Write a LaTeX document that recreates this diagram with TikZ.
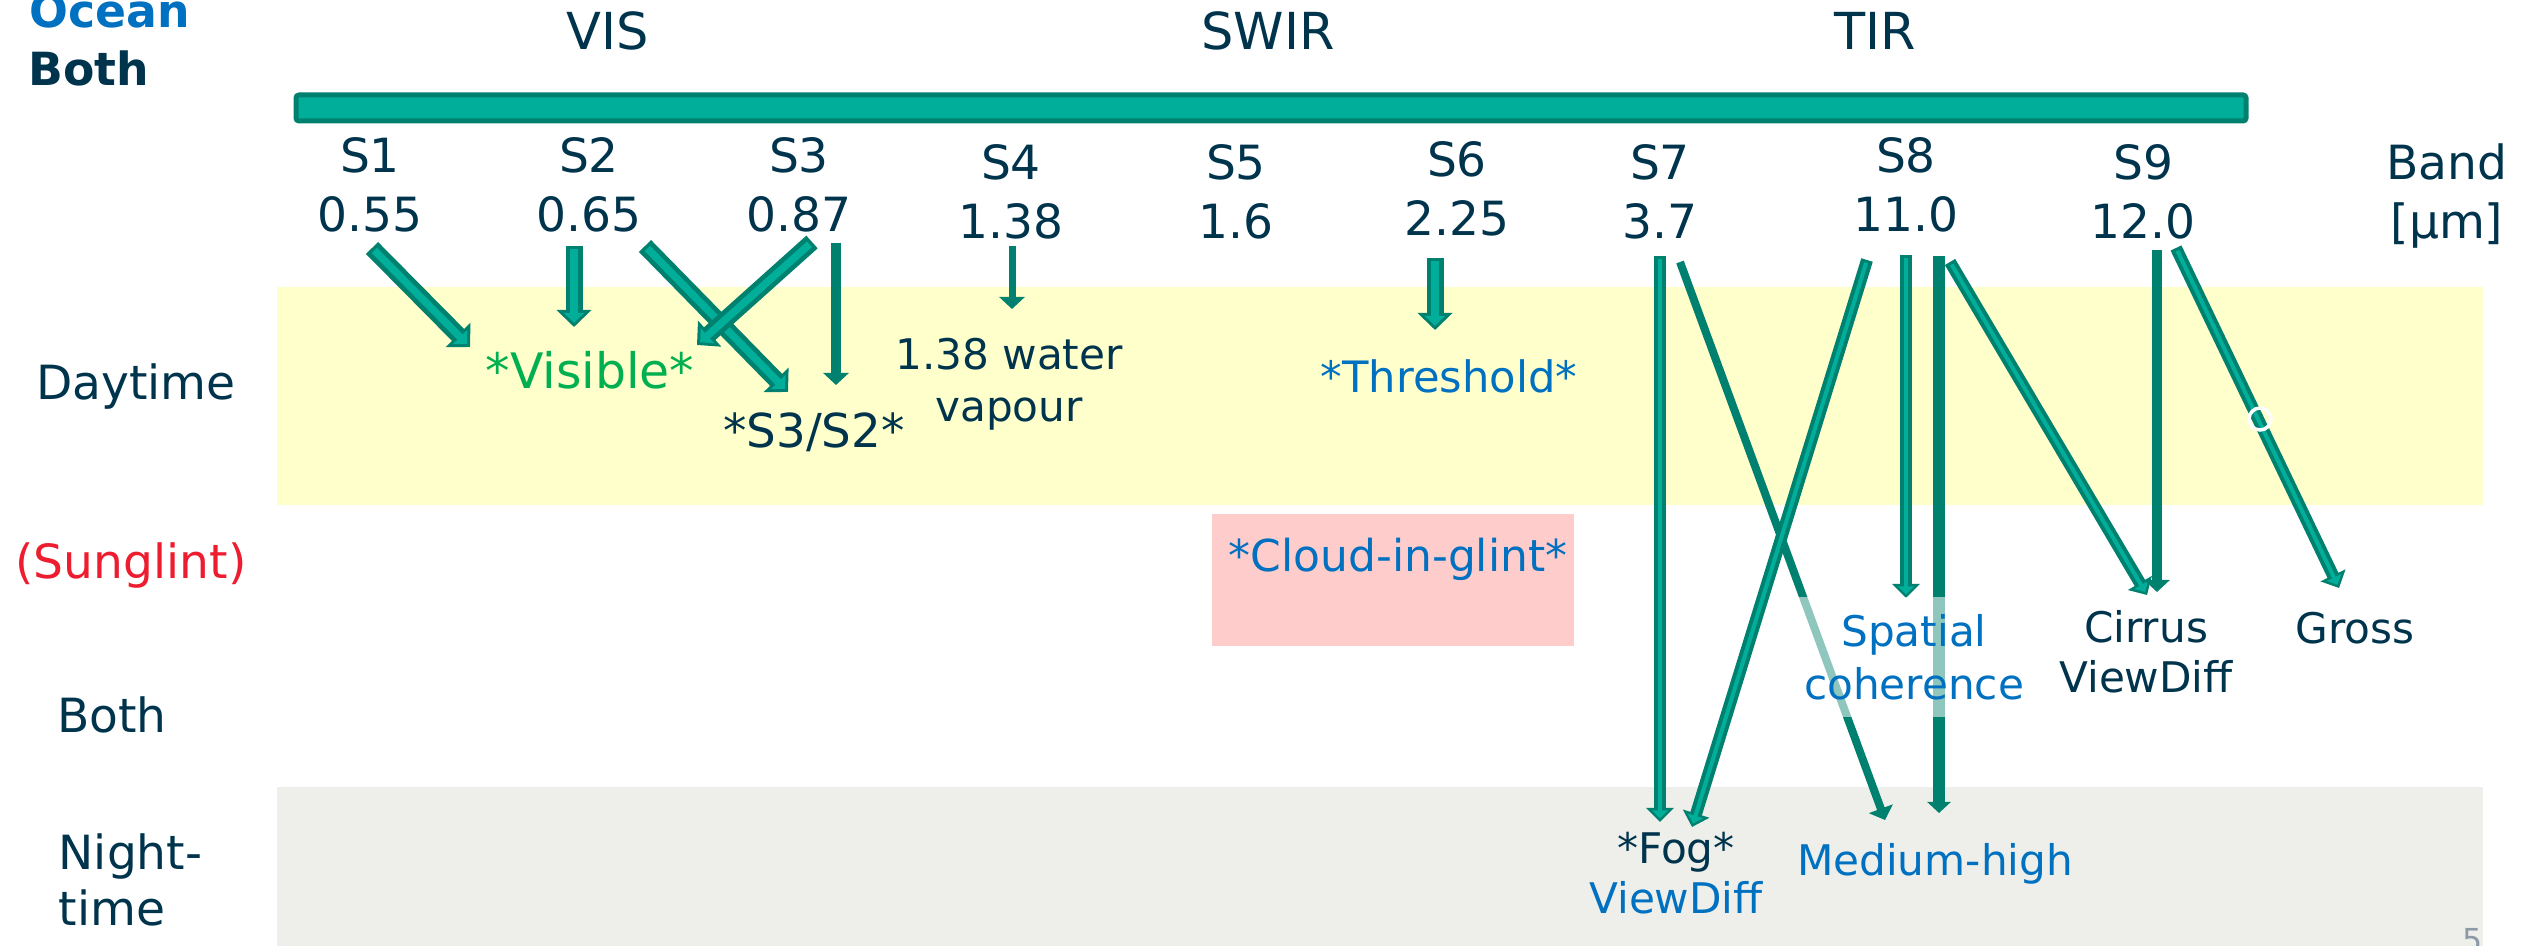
\documentclass[tikz,border=0pt]{standalone}
\usepackage{fontspec}
\setmainfont{DejaVu Sans}
\usetikzlibrary{arrows.meta,calc}

\definecolor{navy}{HTML}{00344D}
\definecolor{oceanblue}{HTML}{0070C0}
\definecolor{visgreen}{HTML}{00B050}
\definecolor{glintred}{HTML}{ED1C2E}
\definecolor{tealfill}{HTML}{00AE9A}
\definecolor{tealdark}{HTML}{00806F}
\definecolor{dayyellow}{HTML}{FFFFCC}
\definecolor{nightgrey}{HTML}{EEEFEA}
\definecolor{glintpink}{HTML}{FFCCCC}
\definecolor{pagegrey}{HTML}{8B9AA6}

% outlined block arrow: dark body, light stripe on top
\newcommand\fatarrow[3]{\draw[#1out] (#2) -- (#3); \draw[#1in] (#2) -- (#3);}

\begin{document}
\begin{tikzpicture}[x=0.01cm,y=-0.01cm,
  lbl/.style={font=\fontsize{12}{14.2}\selectfont,text=navy,align=center,inner sep=0pt,anchor=base},
  band/.style={font=\fontsize{13.4}{16.8}\selectfont,text=navy,align=center,inner sep=0pt,anchor=base},
  side/.style={font=\fontsize{13.4}{15.9}\selectfont,text=navy,inner sep=0pt,anchor=base},
  region/.style={font=\fontsize{14.5}{17}\selectfont,text=navy,inner sep=0pt,anchor=base},
  head/.style={font=\fontsize{13}{15}\selectfont\bfseries,inner sep=0pt,anchor=base west},
  bigout/.style={tealdark,line width=1.7mm,-{Triangle[length=1.7mm,width=3.4mm]}},
  bigin/.style={tealfill,line width=0.75mm,shorten <=0.35mm,shorten >=0.42mm,-{Triangle[length=0.98mm,width=1.96mm]}},
  midout/.style={tealdark,line width=1.2mm,-{Triangle[length=1.4mm,width=2.7mm]}},
  midin/.style={tealfill,line width=0.4mm,shorten <=0.3mm,shorten >=0.36mm,-{Triangle[length=0.8mm,width=1.55mm]}},
  thin/.style={tealdark,line width=1mm,-{Triangle[length=1.2mm,width=2.5mm]}}]

\useasboundingbox (0,0) rectangle (2521,946);

% day / night bands and the glint box
\fill[dayyellow] (277,287) rectangle (2483,505);
\fill[nightgrey] (277,787) rectangle (2483,946);
\fill[glintpink] (1212,514) rectangle (1574,646);

% headings
\node[head,text=oceanblue] (ocean) at (29,28) {Ocean};
\node[head,text=navy] (both top) at (28,86) {Both};

\node[region] (vis) at (608,50) {VIS};
\node[region] (swir) at (1268,50) {SWIR};
\node[region] (tir) at (1875,50) {TIR};

\draw[fill=tealfill,draw=tealdark,line width=0.5mm,rounded corners=0.3mm] (296,95) rectangle (2246,121);

% band labels (anchored on the wavelength line)
\foreach \name/\x/\y/\band/\wl in {s1/370/232/S1/0.55, s2/589/232/S2/0.65, s3/799/232/S3/0.87,
    s4/1011/239/S4/1.38, s5/1236/239/S5/1.6, s6/1457/236/S6/2.25, s7/1660/239/S7/3.7,
    s8/1906/232/S8/11.0, s9/2143/239/S9/12.0, unit/2447/239/Band/[μm]}
  \node[band] (\name) at (\x,\y) {\band\\\wl};

% row labels
\node[side] (day) at (136,400) {Daytime};
\node[side,text=glintred] (glint) at (131,578) {(Sunglint)};
\node[side] (both) at (112,732) {Both};
\node[side,align=left,anchor=base west] (night) at (58,925) {Night-\\time};

% tests
\node[lbl,font=\fontsize{13.9}{16}\selectfont,text=visgreen] (visible) at (590,389) {*Visible*};
\node[lbl,font=\fontsize{13.3}{16}\selectfont] (ratio) at (814,448) {*S3/S2*};
\node[lbl,font=\fontsize{12}{14.8}\selectfont] (vapour) at (1009,422) {1.38 water\\vapour};
\node[lbl,font=\fontsize{12.3}{15}\selectfont,text=oceanblue] (thresh) at (1449,393) {*Threshold*};
\node[lbl,font=\fontsize{12.5}{15}\selectfont,text=oceanblue] (cloud) at (1398,571) {*Cloud-in-glint*};
\node[lbl] (cirrus) at (2146,692) {Cirrus\\ViewDiff};
\node[lbl] (gross) at (2355,643) {Gross};
\node[lbl] (fog) at (1676,913) {*Fog*\\\textcolor{oceanblue}{ViewDiff}};
\node[lbl,text=oceanblue] (medhigh) at (1935,875) {Medium-high};
\node[lbl,font=\fontsize{9}{11}\selectfont,text=pagegrey] (page) at (2473,951) {5};

% arrow ends
\coordinate (s1 out) at (372,248);   \coordinate (vis in1) at (470,347);
\coordinate (s2 out) at (574,246);   \coordinate (vis in2) at (574,327);
\coordinate (s2 out2) at (645,246);  \coordinate (ratio in1) at (788,392);
\coordinate (s3 out) at (812,242);   \coordinate (vis in3) at (697,345);
\coordinate (s3 out2) at (836,243);  \coordinate (ratio in2) at (836,385);
\coordinate (s4 out) at (1012,246);  \coordinate (vap in) at (1012,309);
\coordinate (s6 out) at (1435,258);  \coordinate (thr in) at (1435,330);
\coordinate (s7 out) at (1660,256);  \coordinate (fog in1) at (1660,822);
\coordinate (s7 out2) at (1680,262); \coordinate (med in1) at (1885,820);
\coordinate (s8 out) at (1867,260);  \coordinate (fog in2) at (1692,827);
\coordinate (s8 out2) at (1906,255); \coordinate (spat in) at (1906,598);
\coordinate (s8 out3) at (1939,256); \coordinate (med in2) at (1939,813);
\coordinate (s8 out4) at (1950,262); \coordinate (cir in1) at (2147,595);
\coordinate (s9 out) at (2157,250);  \coordinate (cir in2) at (2157,592);
\coordinate (s9 out2) at (2176,248); \coordinate (gross in) at (2339,588);

\fatarrow{big}{s1 out}{vis in1}
\fatarrow{big}{s2 out}{vis in2}
\fatarrow{big}{s2 out2}{ratio in1}
\fatarrow{big}{s3 out}{vis in3}
\draw[thin] (s3 out2) -- (ratio in2);
\draw[thin,line width=0.7mm] (s4 out) -- (vap in);
\fatarrow{big}{s6 out}{thr in}

\fatarrow{mid}{s7 out}{fog in1}
\draw[thin,line width=0.8mm] (s7 out2) -- (med in1);
\fatarrow{mid}{s8 out}{fog in2}
\fatarrow{mid}{s8 out2}{spat in}
\draw[thin,line width=1.2mm,-{Triangle[length=1.1mm,width=2.3mm]}] (s8 out3) -- (med in2);
\fatarrow{mid}{s8 out4}{cir in1}
\draw[thin] (s9 out) -- (cir in2);
\fatarrow{mid}{s9 out2}{gross in}
\draw[white,line width=0.35mm] (2260,419) circle[radius=1.1mm];

% label box veils the lines running behind it
\node[lbl,anchor=center,text=oceanblue,fill=white,fill opacity=0.56,text opacity=1,
      font=\fontsize{12}{15.1}\selectfont,minimum width=2.35cm,minimum height=1.2cm] (spatial) at (1914,657) {Spatial\\coherence};

\end{tikzpicture}
\end{document}
